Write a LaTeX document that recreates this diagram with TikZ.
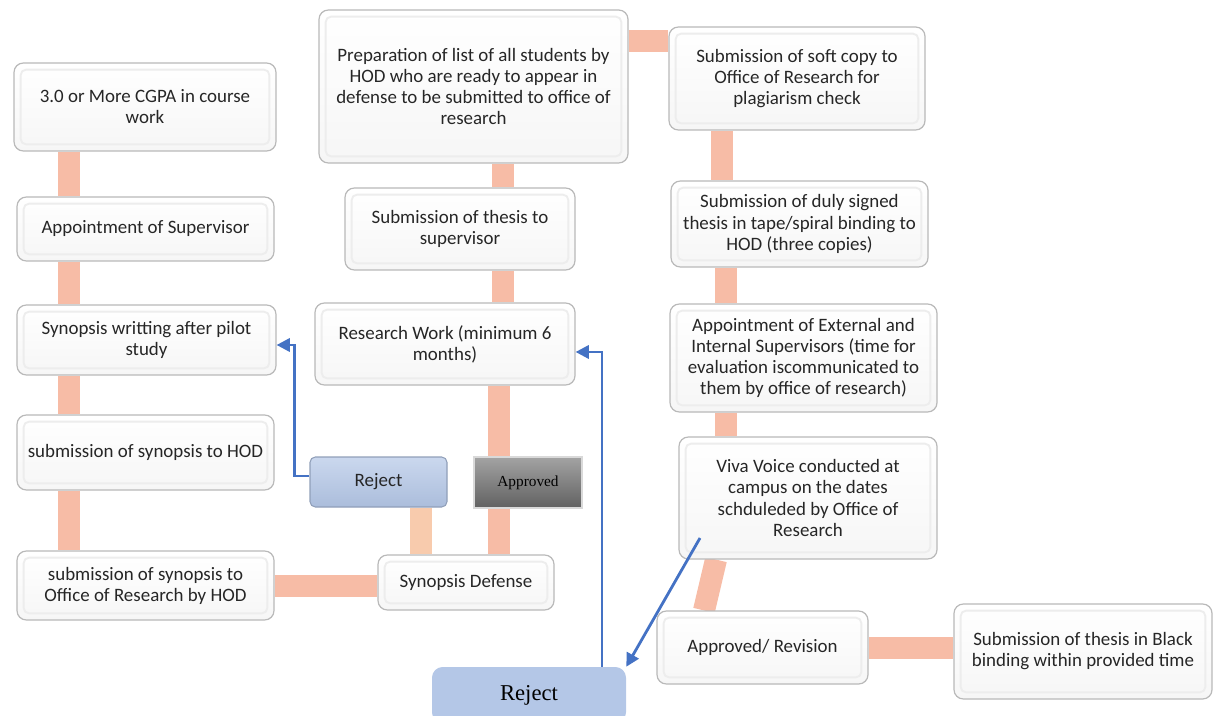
\documentclass[tikz,border=0pt]{standalone}
\usepackage{fontspec}
\setmainfont{Carlito}
\newfontfamily\tnr{Liberation Serif}
\usetikzlibrary{arrows.meta,calc}
\definecolor{connc}{HTML}{F7BCA6}
\definecolor{connb}{HTML}{F8CBAD}
\definecolor{arrblue}{HTML}{4472C4}
\definecolor{rejfill}{HTML}{B4C7E7}
\pgfdeclarelayer{bg}
\pgfsetlayers{bg,main}
\begin{document}
\begin{tikzpicture}[x=0.75pt,y=-0.75pt,
  sz/.style 2 args={minimum width=#1*0.75pt, minimum height=#2*0.75pt},
  box/.style={rectangle, rounded corners=7pt, draw=gray!55, line width=0.9pt,
    top color=white, bottom color=gray!7, align=center, inner sep=2pt,
    font=\fontsize{14.2}{15.8}\selectfont, text=black!85,
    path picture={\draw[gray!14, line width=1.4pt, rounded corners=4pt]
      ([shift={(5pt,5pt)}]path picture bounding box.south west) rectangle
      ([shift={(-5pt,-5pt)}]path picture bounding box.north east);}},
  rejsmall/.style={rectangle, rounded corners=4pt, draw=rejfill!80!black, line width=0.8pt,
    top color=rejfill!70!white, bottom color=rejfill!95!black, align=center,
    font=\fontsize{14.2}{15.8}\selectfont, text=black!85},
  appr/.style={rectangle, draw=gray!30, line width=0.8pt, top color=black!36,
    bottom color=black!62, font=\tnr\fontsize{11.5}{13}\selectfont, text=black},
  rejbig/.style={rectangle, rounded corners=8pt, fill=rejfill,
    font=\tnr\fontsize{17}{19}\selectfont, text=black},
  bar/.style={draw=connc, line width=16.5pt},
  barb/.style={draw=connb, line width=16pt},
  arr/.style={draw=arrblue, line width=2.1pt, -{Triangle[length=10pt,width=10pt]}}
]
\path[use as bounding box] (0,0) rectangle (1213,716);
\clip (0,0) rectangle (1213,716);

% left column
\node[box, sz={262}{88}] (A1) at (145,107) {3.0 or More CGPA in course\\work};
\node[box, sz={257}{64}] (A2) at (145.5,229) {Appointment of Supervisor};
\node[box, sz={259}{70}] (A3) at (146.5,340) {Synopsis writting after pilot\\study};
\node[box, sz={257}{75}] (A4) at (145.5,452.5) {submission of synopsis to HOD};
\node[box, sz={257}{69}] (A5) at (145.5,585.5) {submission of synopsis to\\Office of Research by HOD};

% middle column
\node[box, sz={176}{55}] (SD) at (466,582.5) {Synopsis Defense};
\node[rejsmall, sz={137}{50}] (RJ1) at (378.5,482) {Reject};
\node[appr, sz={108}{51}] (AP) at (528,482.5) {Approved};
\node[box, sz={260}{82}] (RW) at (445,344) {Research Work (minimum 6\\months)};
\node[box, sz={230}{82}] (ST) at (460,229) {Submission of thesis to\\supervisor};
\node[box, sz={309}{153}] (PL) at (473.5,86.5) {Preparation of list of all students by\\HOD who are ready to appear in\\defense to be submitted to office of\\research};

% right column
\node[box, sz={256}{103}] (SC) at (797,78.5) {Submission of soft copy to\\Office of Research for\\plagiarism check};
\node[box, sz={257}{86}] (DS) at (799.5,224) {Submission of duly signed\\thesis in tape/spiral binding to\\HOD (three copies)};
\node[box, sz={267}{108}] (AE) at (803.5,358) {Appointment of External and\\Internal Supervisors (time for\\evaluation iscommunicated to\\them by office of research)};
\node[box, sz={258}{122}] (VV) at (808,498) {Viva Voice conducted at\\campus on the dates\\schduleded by Office of\\Research};
\node[box, sz={211}{73}] (AR) at (762.5,647.5) {Approved/ Revision};
\node[box, sz={258}{95}] (BB) at (1083,651.5) {Submission of thesis in Black\\binding within provided time};
\node[rejbig, sz={194}{56}] (RJ2) at (529,695) {Reject};

% helper coordinates
\coordinate (lx) at (69,0);
\coordinate (rx) at (421,0);
\coordinate (mx) at (499,0);
\coordinate (tx) at (503,0);
\coordinate (sy) at (0,41);
\coordinate (cx1) at (722,0);
\coordinate (cx2) at (726,0);
\coordinate (bx) at (602,0);
\coordinate (vs) at (700,538);
\coordinate (vb) at (716,0);
\coordinate (ab) at (704,0);

\begin{pgfonlayer}{bg}
  \draw[bar] (A1.south -| lx) -- (A2.north -| lx);
  \draw[bar] (A2.south -| lx) -- (A3.north -| lx);
  \draw[bar] (A3.south -| lx) -- (A4.north -| lx);
  \draw[bar] (A4.south -| lx) -- (A5.north -| lx);
  \draw[bar] (A5.east) -- (A5.east -| SD.west);
  \draw[barb] (RJ1.south -| rx) -- (SD.north -| rx);
  \draw[bar] (RW.south -| mx) -- (SD.north -| mx);
  \draw[bar] (PL.south -| tx) -- (ST.north -| tx);
  \draw[bar] (ST.south -| tx) -- (RW.north -| tx);
  \draw[bar] (PL.east |- sy) -- (SC.west |- sy);
  \draw[bar] (SC.south -| cx1) -- (DS.north -| cx1);
  \draw[bar] (DS.south -| cx2) -- (AE.north -| cx2);
  \draw[bar] (AE.south -| cx2) -- (VV.north -| cx2);
  \draw[bar] (VV.south -| vb) -- (AR.north -| ab);
  \draw[bar] (AR.east) -- (AR.east -| BB.west);
\end{pgfonlayer}

% arrows
\draw[arr] ([yshift=4.5pt]RJ1.west) -- ++(-15,0) |- ([yshift=-3.75pt]A3.east);
\draw[arr] (RJ2.north -| bx) |- ([yshift=-6pt]RW.east);
\draw[arr] (vs) -- (RJ2.north east);
\end{tikzpicture}
\end{document}
